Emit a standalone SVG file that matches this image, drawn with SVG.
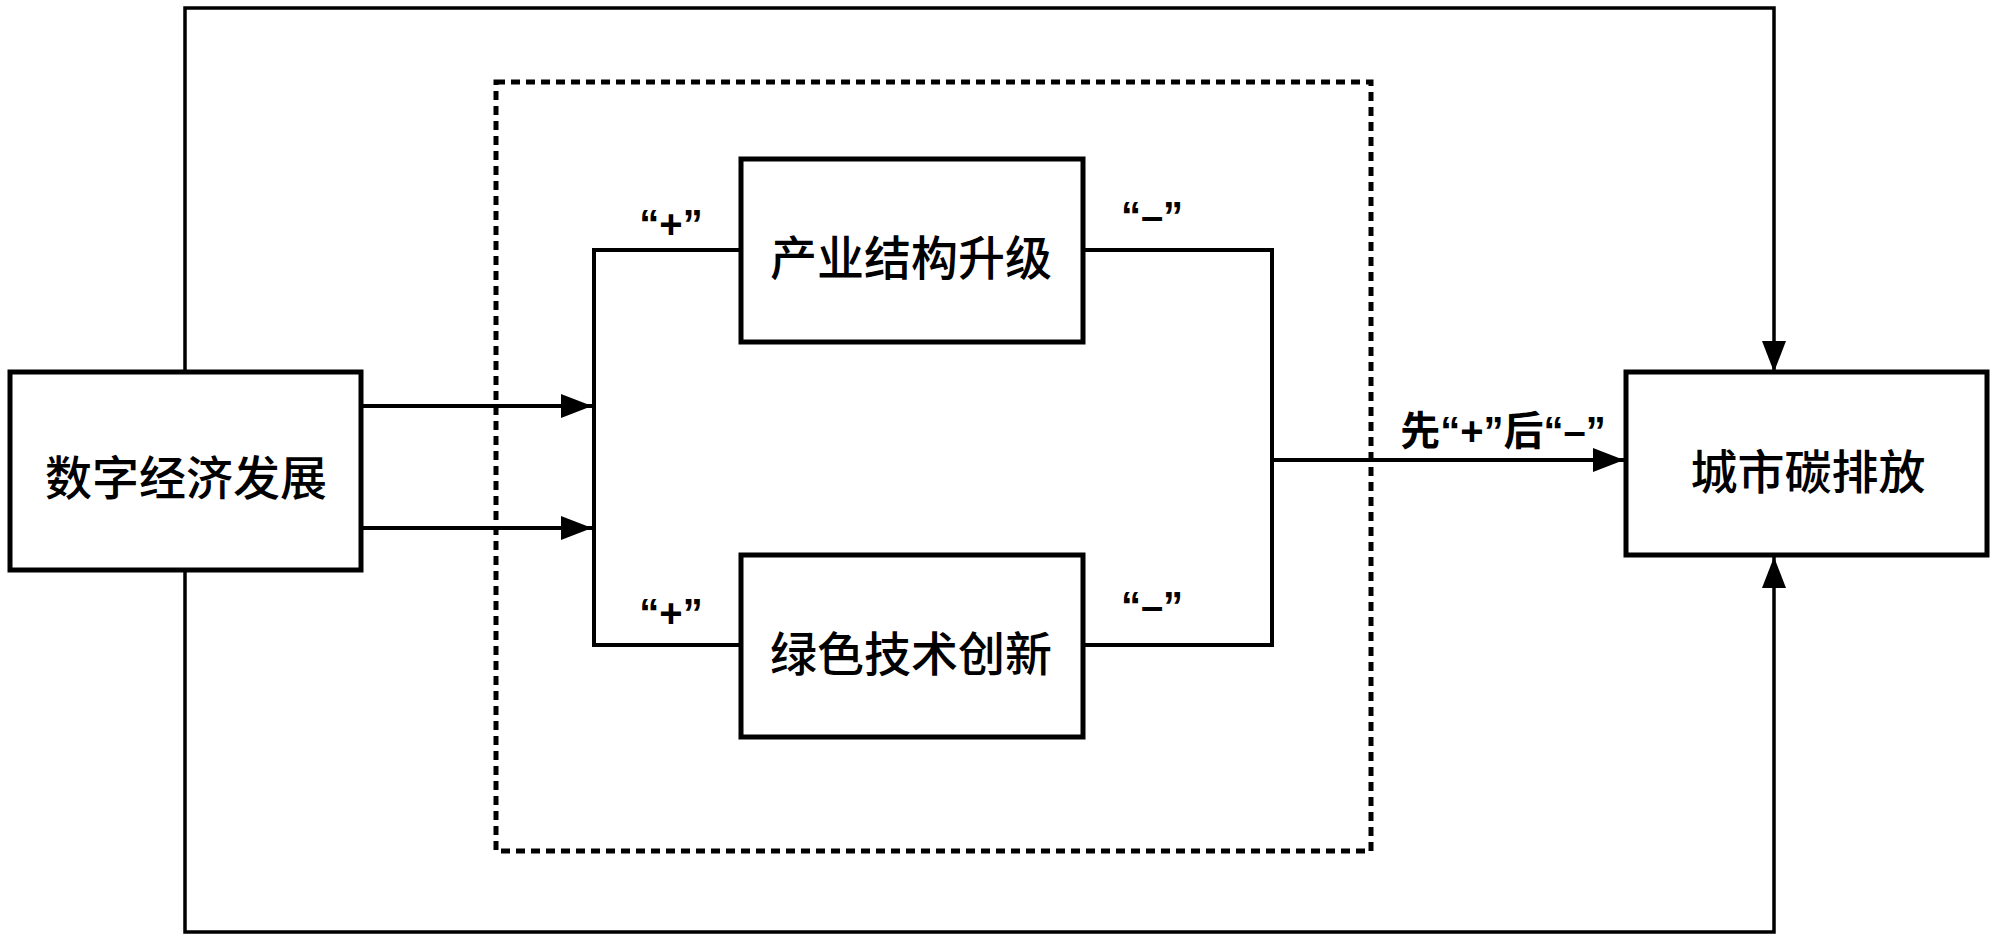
<svg xmlns="http://www.w3.org/2000/svg" width="2000" height="940" viewBox="0 0 2000 940">
<style>
.box{fill:#fff;stroke:#000;stroke-width:5}
.ln{fill:none;stroke:#000;stroke-width:4}
.fb{fill:none;stroke:#000;stroke-width:3.5}
.dot{fill:none;stroke:#000;stroke-width:5;stroke-dasharray:9 6}
.t{font-family:"Noto Sans CJK SC","Noto Sans",sans-serif;font-size:47px;font-weight:500;fill:#000;text-anchor:middle;dominant-baseline:central}
.l{font-family:"Liberation Sans","Noto Sans CJK SC",sans-serif;font-size:40px;font-weight:bold;fill:#000;text-anchor:middle}
</style>
<defs>
<marker id="arr" markerUnits="userSpaceOnUse" markerWidth="32" markerHeight="26" refX="31" refY="12" orient="auto">
<path d="M0,0 L31,12 L0,24 z" fill="#000"/>
</marker>
</defs>
<rect width="2000" height="940" fill="#fff"/>
<rect id="mediator-frame" class="dot" x="496" y="82" width="875" height="769"/>
<g id="connectors">
<path class="fb" d="M185,372 V8 H1774 V372" marker-end="url(#arr)"/>
<path class="fb" d="M185,570 V932 H1774 V557" marker-end="url(#arr)"/>
<path class="ln" d="M361,406 H592" marker-end="url(#arr)"/>
<path class="ln" d="M361,528 H592" marker-end="url(#arr)"/>
<path class="ln" d="M741,250 H594 V645 H741"/>
<path class="ln" d="M1083,250 H1272 V645 H1083"/>
<path class="ln" d="M1272,460 H1624" marker-end="url(#arr)"/>
<text class="l" x="671" y="238">“+”</text>
<text class="l" x="671" y="627">“+”</text>
<text class="l" x="1152" y="230">“–”</text>
<text class="l" x="1152" y="620">“–”</text>
<text class="l" x="1503" y="445" font-weight="500">先“+”后“–”</text>
</g>
<g id="digital-economy">
<rect class="box" x="10" y="372" width="351" height="198"/>
<text class="t" x="186" y="474">数字经济发展</text>
</g>
<g id="industrial-upgrade">
<rect class="box" x="741" y="159" width="342" height="183"/>
<text class="t" x="911" y="254">产业结构升级</text>
</g>
<g id="green-innovation">
<rect class="box" x="741" y="555" width="342" height="182"/>
<text class="t" x="911" y="650">绿色技术创新</text>
</g>
<g id="urban-carbon">
<rect class="box" x="1626" y="372" width="361" height="183"/>
<text class="t" x="1808" y="468">城市碳排放</text>
</g>
</svg>
